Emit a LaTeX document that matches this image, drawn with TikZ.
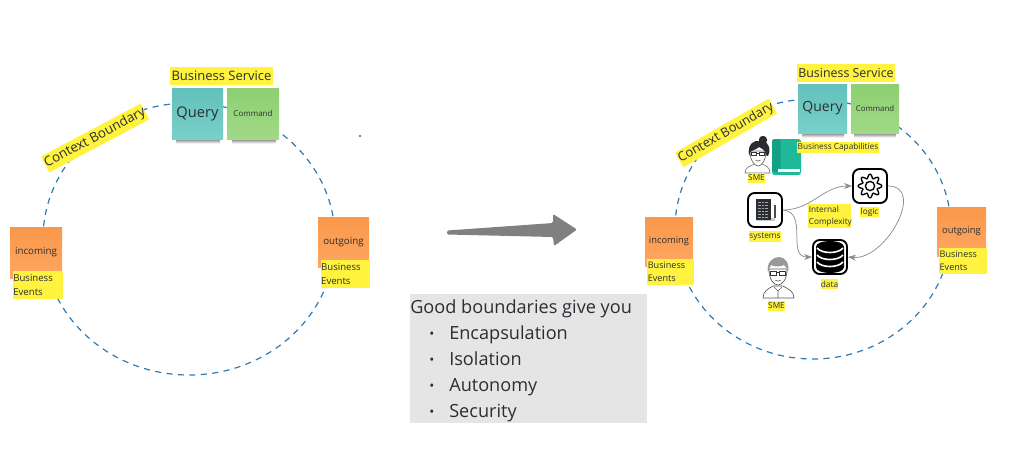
\documentclass[tikz,border=0pt]{standalone}
\usepackage{fontspec}
\setmainfont{Open Sans}
\usetikzlibrary{shapes.geometric, arrows.meta}
\newcommand{\fs}[1]{\fontsize{#1}{#1}\selectfont}
\definecolor{ringblue}{HTML}{2B7BB5}
\definecolor{tagyellow}{HTML}{FFF33F}
\definecolor{inkdark}{HTML}{2A2E33}
\definecolor{querytop}{HTML}{63C0BA}
\definecolor{querybot}{HTML}{78D0CA}
\definecolor{cmdtop}{HTML}{8DCF71}
\definecolor{cmdbot}{HTML}{A1D987}
\definecolor{orgtop}{HTML}{F9984B}
\definecolor{orgbot}{HTML}{FFA65F}
\definecolor{booklight}{HTML}{1FB898}
\definecolor{bookdark}{HTML}{13A085}
\tikzset{x=0.75pt, y=-0.75pt,
         wh/.style 2 args={minimum width=#1*0.75pt, minimum height=#2*0.75pt},
         ring/.style={draw=ringblue, line width=0.9pt, ellipse, inner sep=0pt, dash pattern=on 4.6pt off 4pt},
         sticky/.style={inner sep=0pt, text=inkdark, align=center},
         querynote/.style={sticky, top color=querytop, bottom color=querybot},
         cmdnote/.style={sticky, top color=cmdtop, bottom color=cmdbot},
         orgnote/.style={sticky, top color=orgtop, bottom color=orgbot},
         tag/.style={fill=tagyellow, inner sep=0pt, text=inkdark, align=center},
         eventtag/.style={tag, align=left, font=\fontsize{7.2}{10.4}\selectfont},
         under/.style={inner sep=0pt, top color=black!55, bottom color=white},
         listline/.style={anchor=base west, inner sep=0pt, text=inkdark, font=\fs{13.6}},
         iconbox/.style={draw=black, line width=1.4pt, fill=white, rounded corners=5pt, inner sep=0pt, wh={34}{34}},
         flow/.style={draw=black!45, line width=0.55pt, -{Stealth[length=6pt, width=4.5pt]}},
         pics/gearicon/.style={code={
            \draw[black, line width=1pt, line join=round] plot[smooth cycle, samples=65, domain=0:354.375]
                ({(9.8+2.1*sin(8*\x+90))*cos(\x)}, {(9.8+2.1*sin(8*\x+90))*sin(\x)});
            \draw[black, line width=1pt] (0,0) circle (4.6);
         }},
         pics/dbicon/.style={code={
            \fill[black] (-14,-10) .. controls (-14,-18) and (14,-18) .. (14,-10)
                -- (14,10) .. controls (14,18) and (-14,18) .. (-14,10) -- cycle;
            \foreach \ly in {-7,0,7}
                \draw[white, line width=1.2pt] (-13,\ly-2) .. controls (-8,\ly+4) and (8,\ly+4) .. (13,\ly-2);
         }},
         pics/docicon/.style={code={
            \fill[black!20] (-8,8) rectangle (10,11);
            \fill[inkdark] (-9,-11) rectangle (6,10);
            \foreach \ly in {-8,-5,-2,1,4,7}
                \draw[black!35, line width=0.4pt, dash pattern=on 2pt off 0.8pt] (-7,\ly) -- (4,\ly);
            \fill[black!70] (8.5,-5) rectangle (10.5,8);
         }},
         pics/bookicon/.style={code={
            \fill[booklight, rounded corners=2pt] (-14.5,-18) rectangle (14.5,18);
            \fill[bookdark, rounded corners=2pt] (-14.5,-18) rectangle (-6,15);
            \fill[white] (-9,12) rectangle (13,14.5);
         }},
         pics/smeher/.style={code={
            \fill[inkdark] (5,-13) circle (4.2);
            \fill[inkdark] (4,-12) .. controls (12,-11) and (13,-2) .. (10,3) -- (7,2) -- cycle;
            \draw[black!60, line width=0.4pt, fill=white] (-13,20) .. controls (-13,14) and (-8,13) .. (-3,11)
                -- (4,11) .. controls (8,13) and (12,14) .. (12,20) -- cycle;
            \draw[black!60, line width=0.5pt, fill=white] (-8,-2) .. controls (-8,8) and (-3,13) .. (0,13)
                .. controls (3,13) and (8,8) .. (8,-2) -- cycle;
            \fill[inkdark] (-9,3) .. controls (-11,-10) and (-3,-13) .. (1,-12)
                .. controls (7,-12) and (10,-6) .. (8,2) .. controls (7,-3) and (4,-5) .. (1,-6)
                .. controls (-2,-3) and (-6,-3) .. (-7.5,-1) -- cycle;
            \draw[black!80, line width=0.35pt] (-6.5,-1) rectangle (-1.5,2.5) (1.5,-1) rectangle (6.5,2.5) (-1.5,0) -- (1.5,0);
            \draw[black!70, line width=0.4pt] (-2.5,7) .. controls (-1,8.5) and (1,8.5) .. (2.5,7);
         }},
         pics/smehim/.style={code={
            \draw[black!65, line width=0.5pt, fill=white] (-15,26) .. controls (-15,19) and (-10,17) .. (-5,14)
                -- (5,14) .. controls (10,17) and (16,19) .. (16,26) -- cycle;
            \draw[black!65, line width=0.4pt] (-4,15) -- (0,19) -- (4,15) (0,19) -- (0,26);
            \draw[black!65, line width=0.5pt, fill=white] (-9,-3) .. controls (-9,8) and (-4,13) .. (0,13)
                .. controls (4,13) and (9,8) .. (9,-3) -- cycle;
            \fill[black!40] (-10,1) .. controls (-12,-10) and (-5,-15) .. (1,-15)
                .. controls (7,-15) and (12,-9) .. (10,1) .. controls (9,-4) and (8,-6) .. (6,-7)
                .. controls (2,-5) and (-4,-5) .. (-7,-7) .. controls (-8,-5) and (-9,-3) .. (-10,1) -- cycle;
            \draw[black!80, line width=0.4pt] (-7.5,-1) rectangle (-1.5,3) (1.5,-1) rectangle (7.5,3) (-1.5,0) -- (1.5,0);
            \draw[black!70, line width=0.4pt] (-3,8) .. controls (-1,9.5) and (1,9.5) .. (3,8);
         }},
        }

\begin{document}
\begin{tikzpicture}
        \useasboundingbox (0,0) rectangle (1024,462);

        % left picture
        \node[ring, wh={292}{272}](ringa)at(189,239){};
        \node[under, wh={44}{5}](undqa)at(198,141){};
        \node[under, wh={44}{5}](undca)at(254,141){};
        \node[tag, wh={103}{18}, font=\fs{9.75}](bsa)at(221.5,76){Business Service};
        \node[querynote, wh={51}{51}, font=\fs{11}](qa)at(197.5,113.5){Query};
        \node[cmdnote, wh={52}{51}, font=\fs{6}](ca)at(253,113.5){Command};
        \node[tag, rotate=28, wh={113}{18}, font=\fs{10}](cba)at(95,138){Context Boundary};
        \node[orgnote, wh={52}{51}, font=\fs{7.3}](ina)at(36,252.5){incoming};
        \node[eventtag, wh={50}{28}, text width=37pt](bea)at(38,285){Business\\Events};
        \node[orgnote, wh={51}{50}, font=\fs{7.3}](outa)at(343.5,242){outgoing};
        \node[eventtag, wh={49}{28}, text width=36.5pt](bec)at(345.5,274){Business\\Events};
        \fill[black] (360,136) circle (0.8);

        % big arrow
        \fill[black!50, rounded corners=1pt] (447,230.5) -- (553,223) -- (553,214) -- (577,229.5)
            -- (554,246) -- (553,237) -- (447,234.5) -- cycle;

        % list box
        \node[fill=black!10, inner sep=0pt, wh={237}{129}](listbox)at(528.5,358.5){};
        \node[listline](listhead)at(410,313){Good boundaries give you};
        \foreach \ly/\word in {339/Encapsulation, 365/Isolation, 391/Autonomy, 417/Security}{
            \node[anchor=base, inner sep=0pt, text=inkdark, font=\fs{10}](dot\ly)at(432,\ly-1){•};
            \node[listline](item\ly)at(449,\ly){\word};
        }

        % right picture
        \node[ring, wh={276}{260}](ringb)at(813,229){};
        \node[under, wh={42}{5}](undqb)at(823,135){};
        \node[under, wh={42}{5}](undcb)at(875,135){};
        \node[tag, wh={98}{18}, font=\fs{9.3}](bsb)at(846,73){Business Service};
        \node[querynote, wh={49}{49}, font=\fs{10.5}](qb)at(822.5,108.5){Query};
        \node[cmdnote, wh={48}{49}, font=\fs{5.9}](cb)at(875,108.5){Command};
        \node[tag, rotate=30, wh={107}{17}, font=\fs{9.6}](cbb)at(726,133){Context Boundary};
        \node[orgnote, wh={48}{49}, font=\fs{7}](inb)at(669,241.5){incoming};
        \node[eventtag, wh={47}{26}, text width=34pt, font=\fontsize{6.8}{10}\selectfont](beb)at(670.5,272){Business\\Events};
        \node[orgnote, wh={49}{49}, font=\fs{7}](outb)at(961.5,231.5){outgoing};
        \node[eventtag, wh={48}{26}, text width=35pt, font=\fontsize{6.8}{10}\selectfont](bed)at(963,261){Business\\Events};

        \pic at (786.5,157){bookicon};
        \node[tag, wh={82}{11}, font=\fs{6.2}](caps)at(838,147.5){Business Capabilities};
        \pic at (758,153){smeher};
        \node[tag, wh={17}{10}, font=\fs{6.2}](smea)at(756.5,178){SME};
        \pic at (778,272){smehim};
        \node[tag, wh={17}{10}, font=\fs{6.2}](smeb)at(776.5,306){SME};

        \node[iconbox](systems)at(765,210){};
        \pic at (765,210){docicon};
        \node[tag, wh={32}{11}, font=\fs{6.2}](syslabel)at(765,236.5){systems};
        \node[iconbox](logic)at(870,186){};
        \pic at (870,186){gearicon};
        \node[tag, wh={19}{10}, font=\fs{6.2}](loglabel)at(869.5,212){logic};
        \node[iconbox](data)at(830,257){};
        \pic at (830,257){dbicon};
        \node[tag, wh={17}{10}, font=\fs{6.2}](datlabel)at(829.5,284){data};
        \node[tag, wh={43}{24}, align=left, text width=31pt, font=\fontsize{6.2}{9}\selectfont](complex)at(829.5,216){Internal\\Complexity};

        \draw[flow](systems.east)to[out=0,in=180](logic.west);
        \draw[flow](systems.east)to[out=-5,in=180,looseness=1.2](data.west);
        \draw[flow](logic.east)to[out=0,in=-5,looseness=1.2](data.east);
    \end{tikzpicture}
\end{document}
